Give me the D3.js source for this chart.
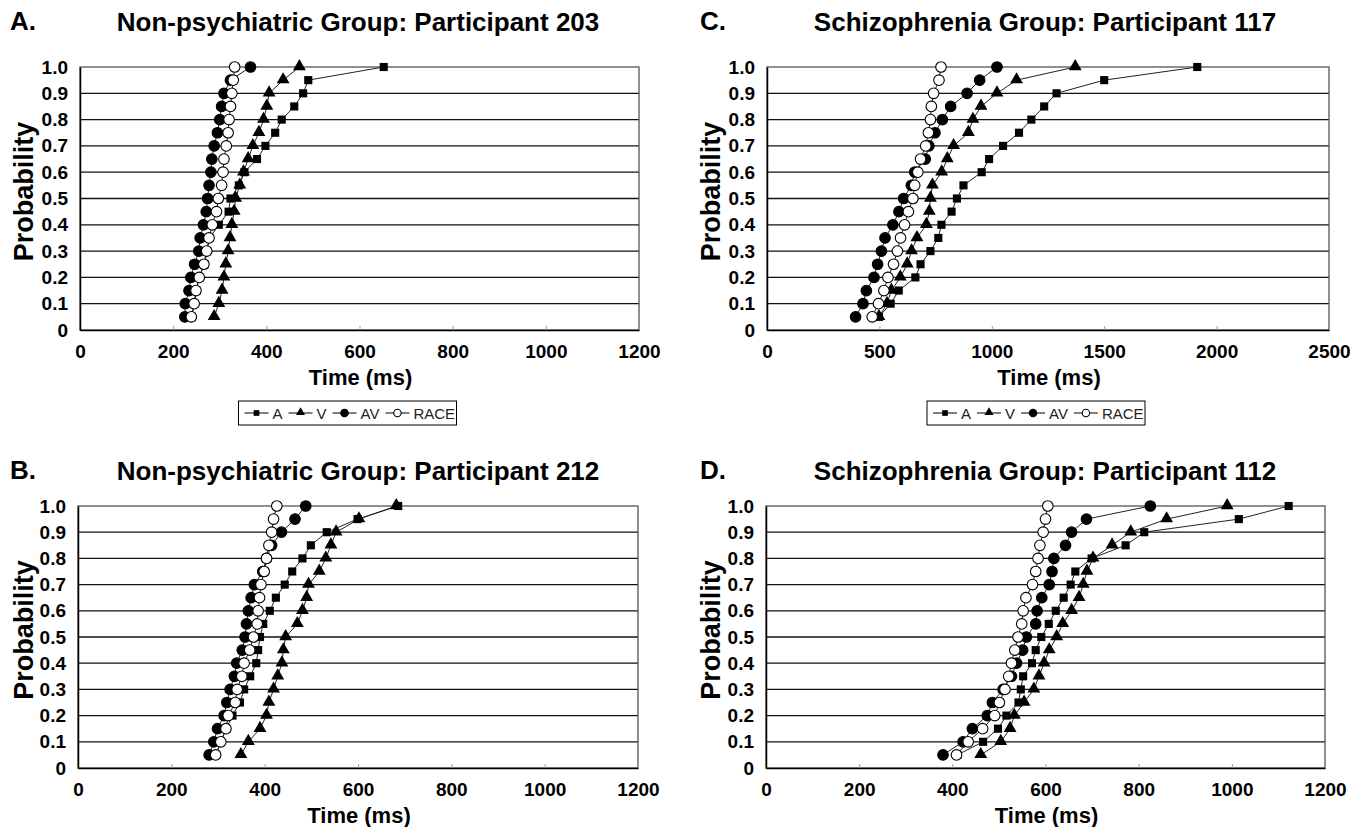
<!DOCTYPE html>
<html>
<head>
<meta charset="utf-8">
<script src="https://cdn.jsdelivr.net/npm/d3@7/dist/d3.min.js"></script>
<style>
  body { margin: 0; background: #fff; }
  text { font-family: "Liberation Sans", Arial, sans-serif; }
</style>
</head>
<body>
<div id="chart"></div>
<script>
'use strict';

const width = 1360;
const height = 827;

// cumulative probability of each plotted point
const probs = [0.05, 0.1, 0.15, 0.2, 0.25, 0.3, 0.35, 0.4, 0.45, 0.5,
               0.55, 0.6, 0.65, 0.7, 0.75, 0.8, 0.85, 0.9, 0.95, 1.0];
const yTicks = [0, 0.1, 0.2, 0.3, 0.4, 0.5, 0.6, 0.7, 0.8, 0.9, 1.0];
const xTicks1200 = [0, 200, 400, 600, 800, 1000, 1200];
const xTicks2500 = [0, 500, 1000, 1500, 2000, 2500];
const seriesNames = ['A', 'V', 'AV', 'RACE'];

// Non-psychiatric participant 203 (ms)
const p203A    = [240, 245, 250, 256, 267, 273, 278, 298, 319, 323, 341, 353, 380, 398, 419, 433, 460, 479, 490, 652];
const p203V    = [288, 298, 305, 309, 313, 318, 322, 326, 331, 334, 343, 351, 361, 371, 384, 394, 401, 406, 436, 471];
const p203AV   = [225, 226, 234, 238, 246, 255, 258, 265, 271, 274, 277, 281, 283, 288, 295, 300, 304, 309, 323, 366];
const p203RACE = [239, 245, 249, 256, 266, 272, 277, 284, 293, 297, 304, 307, 309, 314, 318, 320, 323, 326, 329, 332];

// Non-psychiatric participant 212 (ms)
const p212A    = [296, 306, 318, 331, 347, 356, 369, 382, 386, 390, 397, 411, 424, 443, 459, 481, 499, 533, 599, 686];
const p212V    = [349, 365, 390, 404, 409, 419, 428, 437, 440, 445, 470, 481, 490, 494, 517, 531, 542, 553, 602, 682];
const p212AV   = [281, 291, 299, 313, 319, 326, 335, 340, 352, 358, 361, 365, 371, 378, 396, 404, 415, 436, 465, 488];
const p212RACE = [295, 306, 317, 322, 337, 341, 351, 356, 368, 376, 384, 386, 389, 392, 399, 404, 409, 415, 419, 426];

// Schizophrenia participant 117 (ms)
const p117A    = [498, 550, 586, 660, 683, 727, 762, 776, 821, 845, 874, 955, 988, 1050, 1121, 1176, 1233, 1288, 1500, 1914];
const p117V    = [498, 534, 553, 593, 624, 643, 667, 709, 722, 727, 736, 777, 802, 830, 896, 916, 952, 1023, 1110, 1371];
const p117AV   = [394, 427, 442, 476, 492, 509, 525, 560, 587, 608, 642, 657, 704, 720, 747, 780, 817, 890, 946, 1023];
const p117RACE = [468, 496, 520, 538, 563, 580, 594, 612, 629, 649, 657, 671, 683, 706, 718, 727, 731, 741, 765, 774];

// Schizophrenia participant 112 (ms)
const p112A    = [411, 466, 498, 516, 542, 547, 552, 571, 579, 591, 607, 622, 639, 654, 664, 699, 772, 812, 1015, 1122];
const p112V    = [461, 504, 524, 533, 554, 575, 586, 597, 608, 624, 637, 656, 672, 681, 689, 702, 743, 783, 860, 990];
const p112AV   = [380, 423, 443, 475, 486, 509, 527, 538, 551, 559, 579, 582, 592, 608, 614, 618, 643, 656, 688, 825];
const p112RACE = [409, 434, 465, 491, 501, 513, 521, 527, 534, 541, 549, 552, 558, 572, 579, 584, 588, 595, 600, 605];

const panels = [
    {letter: 'A.', title: 'Non-psychiatric Group: Participant 203', left: 80, right: 639, top: 67, bottom: 330,
     xMax: 1200, xTicks: xTicks1200, series: [p203A, p203V, p203AV, p203RACE], legend: true,
     letterX: 10, titleX: 358, titleY: 31, labelX: 33},
    {letter: 'B.', title: 'Non-psychiatric Group: Participant 212', left: 78, right: 638, top: 506, bottom: 768,
     xMax: 1200, xTicks: xTicks1200, series: [p212A, p212V, p212AV, p212RACE], legend: false,
     letterX: 10, titleX: 358, titleY: 480, labelX: 33},
    {letter: 'C.', title: 'Schizophrenia Group: Participant 117', left: 767, right: 1329, top: 67, bottom: 330,
     xMax: 2500, xTicks: xTicks2500, series: [p117A, p117V, p117AV, p117RACE], legend: true,
     letterX: 700, titleX: 1045, titleY: 31, labelX: 720},
    {letter: 'D.', title: 'Schizophrenia Group: Participant 112', left: 766, right: 1325, top: 506, bottom: 768,
     xMax: 1200, xTicks: xTicks1200, series: [p112A, p112V, p112AV, p112RACE], legend: false,
     letterX: 700, titleX: 1045, titleY: 480, labelX: 720}
];

const svg = d3.select('#chart').append('svg')
    .attr('width', width)
    .attr('height', height);

svg.append('rect')
    .attr('width', width)
    .attr('height', height)
    .attr('fill', '#fff');

const squareSym = d3.symbol().type(d3.symbolSquare);
const triangleSym = d3.symbol().type(d3.symbolTriangle);

function drawMarker(sel, name, px, py, scale) {
    if (name === 'A') {
        sel.append('path').attr('d', squareSym.size(66 * scale * scale)())
            .attr('transform', `translate(${px},${py})`).attr('fill', '#000');
    } else if (name === 'V') {
        sel.append('path').attr('d', triangleSym.size(72 * scale * scale)())
            .attr('transform', `translate(${px},${py - 0.5})`).attr('fill', '#000');
    } else {
        sel.append('circle').attr('cx', px).attr('cy', py).attr('r', 5.3 * scale)
            .attr('fill', name === 'AV' ? '#000' : '#fff')
            .attr('stroke', '#000').attr('stroke-width', 1.1);
    }
}

panels.forEach(drawPanel);

function drawPanel(p) {
    const x = d3.scaleLinear().domain([0, p.xMax]).range([p.left, p.right]);
    const y = d3.scaleLinear().domain([0, 1]).range([p.bottom, p.top]);
    const g = svg.append('g');

    // grid lines every 0.1
    g.append('g').selectAll('line')
        .data(yTicks.filter(d => d > 0 && d < 1))
        .join('line')
        .attr('x1', p.left).attr('x2', p.right)
        .attr('y1', d => y(d)).attr('y2', d => y(d))
        .attr('stroke', '#111').attr('stroke-width', 1.3);

    // plot frame (top and right in grey)
    g.append('rect')
        .attr('x', p.left).attr('y', p.top)
        .attr('width', p.right - p.left).attr('height', p.bottom - p.top)
        .attr('fill', 'none').attr('stroke', '#555').attr('stroke-width', 1.3);

    const xAxis = g.append('g')
        .attr('transform', `translate(0,${p.bottom})`)
        .call(d3.axisBottom(x).tickValues(p.xTicks).tickSizeInner(-4).tickSizeOuter(0).tickPadding(15)
            .tickFormat(d3.format('d')));
    xAxis.select('.domain').attr('stroke', '#000').attr('stroke-width', 1.5);
    xAxis.selectAll('.tick line').attr('stroke', '#999');
    xAxis.selectAll('text')
        .attr('font-size', 19).attr('font-weight', 'bold').attr('fill', '#000');

    const yAxis = g.append('g')
        .attr('transform', `translate(${p.left},0)`)
        .call(d3.axisLeft(y).tickValues(yTicks).tickSize(0).tickPadding(12)
            .tickFormat(d => d === 0 ? '0' : d3.format('.1f')(d)));
    yAxis.select('.domain').attr('stroke', '#000').attr('stroke-width', 1.5);
    yAxis.selectAll('text')
        .attr('font-size', 19).attr('font-weight', 'bold').attr('fill', '#000');

    // series: A, V, AV, RACE (later ones on top)
    const line = d3.line().x(d => x(d[0])).y(d => y(d[1]));
    p.series.forEach((vals, i) => {
        const pts = vals.map((v, k) => [v, probs[k]]);
        const sg = g.append('g');
        sg.append('path')
            .attr('d', line(pts))
            .attr('fill', 'none').attr('stroke', '#222').attr('stroke-width', 1);
        pts.forEach(pt => drawMarker(sg, seriesNames[i], x(pt[0]), y(pt[1]), 1));
    });

    // titles and axis labels
    svg.append('text')
        .attr('x', p.letterX).attr('y', p.titleY - 1)
        .attr('font-size', 26).attr('font-weight', 'bold')
        .text(p.letter);
    svg.append('text')
        .attr('x', p.titleX).attr('y', p.titleY)
        .attr('text-anchor', 'middle')
        .attr('font-size', 26).attr('font-weight', 'bold')
        .text(p.title);
    svg.append('text')
        .attr('x', (p.left + p.right) / 2 + 1).attr('y', p.bottom + 55)
        .attr('text-anchor', 'middle')
        .attr('font-size', 22).attr('font-weight', 'bold')
        .text('Time (ms)');
    svg.append('text')
        .attr('transform', `translate(${p.labelX},${(p.top + p.bottom) / 2 - 7}) rotate(-90)`)
        .attr('text-anchor', 'middle')
        .attr('font-size', 27).attr('font-weight', 'bold')
        .text('Probability');

    if (p.legend) drawLegend((p.left + p.right) / 2 - 121, p.bottom + 71);
}

function drawLegend(lx, ly) {
    const lg = svg.append('g').attr('transform', `translate(${lx},${ly})`);
    lg.append('rect')
        .attr('width', 218).attr('height', 24)
        .attr('fill', '#fff').attr('stroke', '#000').attr('stroke-width', 1);
    let cx = 6;
    seriesNames.forEach(name => {
        lg.append('line')
            .attr('x1', cx).attr('x2', cx + 24)
            .attr('y1', 12).attr('y2', 12)
            .attr('stroke', '#000').attr('stroke-width', 1);
        drawMarker(lg, name, cx + 12, 12, 0.7);
        const t = lg.append('text')
            .attr('x', cx + 28).attr('y', 17.5)
            .attr('font-size', 15).attr('fill', '#222')
            .text(name);
        cx += 28 + t.node().getComputedTextLength() + 6;
    });
}
</script>
</body>
</html>
